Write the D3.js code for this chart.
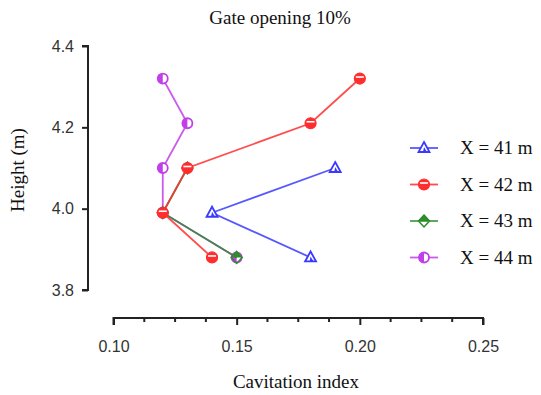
<!DOCTYPE html>
<html>
<head>
<meta charset="utf-8">
<script src="https://cdn.jsdelivr.net/npm/d3@7"></script>
<style>
  body { margin: 0; background: #fff; }
  svg { display: block; }
</style>
</head>
<body>
<div id="graph"></div>
<script>
// values
var names = ["X = 41 m", "X = 42 m", "X = 43 m", "X = 44 m"],
	colors = ["#3a3aff", "#ff2e2e", "#2e8b2e", "#c23ee8"],
	shapes = ["triangle", "circle", "diamond", "circleV"];

var cav41 = [0.19, 0.14, 0.18],
	h41 = [4.10, 3.99, 3.88],
	cav42 = [0.20, 0.18, 0.13, 0.12, 0.14],
	h42 = [4.32, 4.21, 4.10, 3.99, 3.88],
	cav43 = [0.13, 0.12, 0.15],
	h43 = [4.10, 3.99, 3.88],
	cav44 = [0.12, 0.13, 0.12, 0.12, 0.15],
	h44 = [4.32, 4.21, 4.10, 3.99, 3.88];

var xTicks = [0.10, 0.15, 0.20, 0.25],
	yTicks = [3.8, 4.0, 4.2, 4.4];

var SVGwidth = 541, SVGheight = 395;

var svg = d3.select("div#graph")
	.append("svg")
	.attr("width", SVGwidth)
	.attr("height", SVGheight);

var x = d3.scaleLinear().domain([0.10, 0.25]).range([113.5, 483]),
	y = d3.scaleLinear().domain([3.8, 4.4]).range([290, 46]);

function zip(a, b){ return a.map(function(v, i){ return {x: v, y: b[i]}; }); }

// drawing order: red sits on top of green where they overlap
var series = [
	{ name: names[0], color: colors[0], shape: shapes[0], pts: zip(cav41, h41) },
	{ name: names[3], color: colors[3], shape: shapes[3], pts: zip(cav44, h44) },
	{ name: names[2], color: colors[2], shape: shapes[2], pts: zip(cav43, h43) },
	{ name: names[1], color: colors[1], shape: shapes[1], pts: zip(cav42, h42) }
];

// title
svg.append("text")
	.attr("x", 280).attr("y", 24)
	.attr("text-anchor", "middle")
	.style("font-family", "'Liberation Serif', 'Times New Roman', serif")
	.style("font-size", "19px")
	.attr("fill", "#111")
	.text("Gate opening 10%");

// y axis
var yAxis = svg.append("g")
	.attr("transform", "translate(88,0)")
	.call(d3.axisLeft(y).tickValues(yTicks).tickSize(6).tickPadding(8).tickFormat(d3.format(".1f")));
yAxis.select(".domain").attr("d", "M-6," + y(3.8) + "H0V" + y(4.4) + "H-6");

// x axis, major + minor ticks
var xAxis = svg.append("g")
	.attr("transform", "translate(0,318)")
	.call(d3.axisBottom(x).tickValues(xTicks).tickSize(7).tickPadding(16).tickFormat(d3.format(".2f")));
xAxis.select(".domain").attr("d", "M" + x(0.10) + ",7V0H" + x(0.25) + "V7");
svg.append("g")
	.attr("transform", "translate(0,318)")
	.selectAll("line")
	.data(d3.range(0, 13).map(function(i){ return 0.10 + i * 0.0125; }).filter(function(d, i){ return i % 4 != 0; }))
	.enter().append("line")
	.attr("x1", function(d){ return x(d); })
	.attr("x2", function(d){ return x(d); })
	.attr("y1", 0).attr("y2", 4)
	.attr("stroke", "#222").attr("stroke-width", 2);

svg.selectAll(".domain, .tick line").attr("stroke", "#222").attr("stroke-width", 2);
svg.selectAll(".tick text")
	.style("font-family", "'Liberation Sans', Arial, sans-serif")
	.style("font-size", "16px")
	.attr("fill", "#333");

// axis titles
svg.append("text")
	.attr("x", 296).attr("y", 388)
	.attr("text-anchor", "middle")
	.style("font-family", "'Liberation Serif', 'Times New Roman', serif")
	.style("font-size", "19px")
	.attr("fill", "#111")
	.text("Cavitation index");

svg.append("text")
	.attr("transform", "translate(24,170) rotate(-90)")
	.attr("text-anchor", "middle")
	.style("font-family", "'Liberation Serif', 'Times New Roman', serif")
	.style("font-size", "19px")
	.attr("fill", "#111")
	.text("Height (m)");

// markers: outline with half filled
function drawMarker(g, shape, color){
	if (shape == "circle"){
		g.append("circle").attr("r", 5.5).attr("fill", color).attr("stroke", color).attr("stroke-width", 1.2);
		g.append("line").attr("x1", -4).attr("x2", 4).attr("y1", -1.5).attr("y2", -1.5)
			.attr("stroke", "#fff").attr("stroke-width", 1.6);
	} else if (shape == "circleV"){
		g.append("circle").attr("r", 5).attr("fill", "#fff").attr("stroke", color).attr("stroke-width", 1.8);
		g.append("path").attr("d", "M0,-5A5,5 0 0,0 0,5Z").attr("fill", color);
	} else if (shape == "diamond"){
		g.append("path").attr("d", "M0,-6L5.5,0L0,6L-5.5,0Z").attr("fill", "none").attr("stroke", color).attr("stroke-width", 1.5);
		g.append("path").attr("d", "M0,-6L5.5,0L-5.5,0Z").attr("fill", color);
	} else {
		g.append("path").attr("d", "M0,-6L5.5,4L-5.5,4Z").attr("fill", "#fff").attr("stroke", color).attr("stroke-width", 1.8);
		g.append("path").attr("d", "M0,-1L3,4L-1,4Z").attr("fill", color);
	}
}

var line = d3.line().x(function(d){ return x(d.x); }).y(function(d){ return y(d.y); });

series.forEach(function(s){
	var g = svg.append("g").attr("class", "series");
	g.append("path")
		.attr("d", line(s.pts))
		.attr("fill", "none")
		.attr("stroke", s.color)
		.attr("stroke-opacity", 0.85)
		.attr("stroke-width", 1.8);
	g.selectAll("g.pt")
		.data(s.pts).enter()
		.append("g")
		.attr("class", "pt")
		.attr("transform", function(d){ return "translate(" + x(d.x) + "," + y(d.y) + ")"; })
		.each(function(){ drawMarker(d3.select(this), s.shape, s.color); });
});

// legend
var legend = svg.append("g").attr("class", "legend");
names.forEach(function(n, i){
	var ly = 148 + i * 36.5;
	var lg = legend.append("g").attr("transform", "translate(0," + ly + ")");
	lg.append("line").attr("x1", 410).attr("x2", 438).attr("y1", 0).attr("y2", 0)
		.attr("stroke", colors[i]).attr("stroke-opacity", 0.85).attr("stroke-width", 1.8);
	drawMarker(lg.append("g").attr("transform", "translate(424,0)"), shapes[i], colors[i]);
	lg.append("text")
		.attr("x", 460).attr("y", 6)
		.style("font-family", "'Liberation Serif', 'Times New Roman', serif")
		.style("font-size", "19px")
		.attr("fill", "#111")
		.text(n);
});
</script>
</body>
</html>
